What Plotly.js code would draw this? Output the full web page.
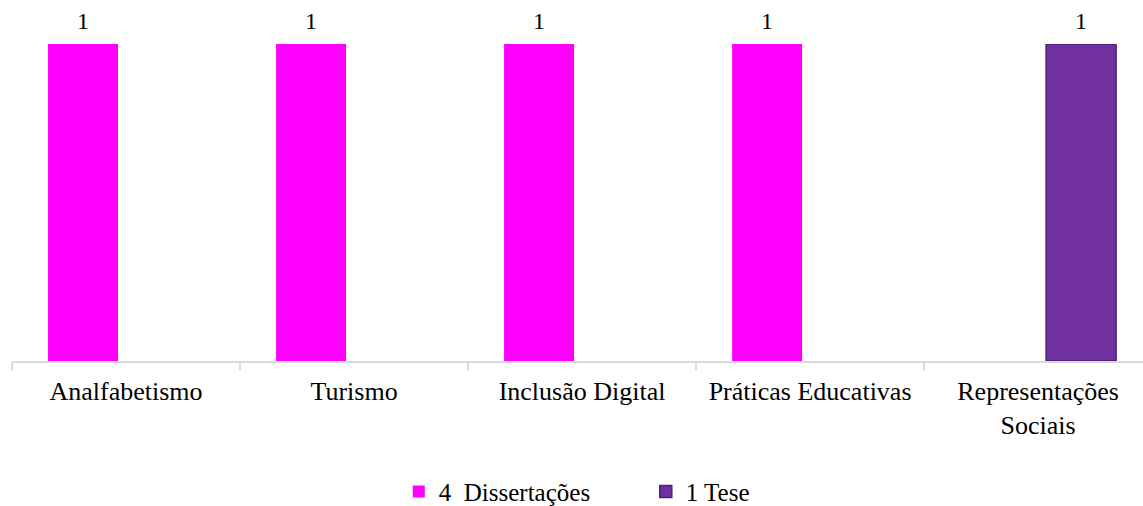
<!DOCTYPE html>
<html>
<head>
<meta charset="utf-8">
<script src="https://cdn.plot.ly/plotly-3.0.1.min.js"></script>
<style>html,body{margin:0;padding:0;background:#fff;}#chart{width:1143px;height:506px;}</style>
</head>
<body>
<div id="chart"></div>
<script>
const categories = ["Analfabetismo", "Turismo", "Inclusão Digital", "Práticas Educativas", "Representações<br>Sociais"];
const seriesNames = ["4\u00a0\u00a0Dissertações", "1 Tese"];
const dissertacoes = [1, 1, 1, 1, null];
const tese = [null, null, null, null, 1];

const font = {family: "Liberation Serif, Times New Roman, serif", size: 26, color: "#000"};
const labelFont = {family: "Liberation Serif, Times New Roman, serif", size: 24, color: "#000"};

const traces = [
  {
    type: "bar", name: seriesNames[0], x: categories, y: dissertacoes,
    marker: {color: "#FF00FF", line: {width: 0}},
    hoverinfo: "skip"
  },
  {
    type: "bar", name: seriesNames[1], x: categories, y: tese,
    marker: {color: "#7030A0", line: {width: 1.5, color: "#4e1f75"}},
    hoverinfo: "skip"
  }
];

// value labels above bars, anchored to data through the axes
const annotations = [];
[dissertacoes, tese].forEach((vals, s) => {
  vals.forEach((v, i) => {
    if (v == null) return;
    annotations.push({
      x: categories[i], y: v, xref: "x", yref: "y",
      xshift: s === 0 ? -43.5 : 42.5, yshift: 8, yanchor: "bottom",
      text: String(v), showarrow: false, font: labelFont
    });
  });
});

const layout = {
  width: 1143, height: 506,
  margin: {l: 12, r: 0, t: 44, b: 145},
  paper_bgcolor: "#fff", plot_bgcolor: "#fff",
  font: font,
  barmode: "group", bargap: 0.246, bargroupgap: 0.186,
  showlegend: true,
  legend: {orientation: "h", x: 0.565, xanchor: "center", xref: "container", yref: "container", y: 0.028, yanchor: "middle",
           entrywidth: 202, entrywidthmode: "pixels",
           font: {family: font.family, size: 25, color: "#000"}, itemwidth: 30, traceorder: "normal"},
  annotations: annotations,
  xaxis: {
    type: "category", range: [-0.5, 4.46], fixedrange: true,
    showline: true, linecolor: "#d9d9d9", linewidth: 2,
    ticks: "outside", tickson: "boundaries", ticklen: 7, tickcolor: "#d9d9d9", tickwidth: 2,
    ticklabelstandoff: 6,
    showgrid: false, tickfont: font, automargin: false
  },
  yaxis: {
    range: [0, 1], visible: false, showgrid: false, zeroline: false, fixedrange: true
  }
};

Plotly.newPlot("chart", traces, layout, {displayModeBar: false, staticPlot: true});
</script>
</body>
</html>
